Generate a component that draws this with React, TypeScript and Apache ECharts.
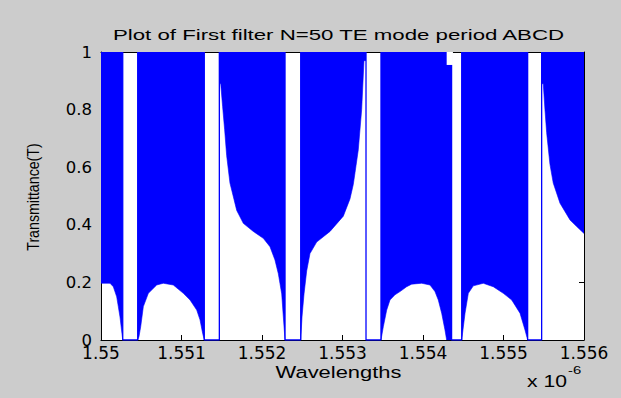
import React, { useEffect, useRef } from "react";
import * as echarts from "echarts";

// Wavelength axis (units of 1e-6 m)
const xMin = 1.55;
const xMax = 1.556;
const xStep = 0.001;
const yTicks = [0, 0.2, 0.4, 0.6, 0.8, 1];

// Stop bands (transmittance ~ 0): start / end wavelengths
const gapStarts = [1.55027, 1.551283, 1.552286, 1.553292, 1.554355, 1.5553];
const gapEnds = [1.550456, 1.55147, 1.552481, 1.553478, 1.554481, 1.555474];

// Lower envelope of the oscillating transmittance (upper envelope = 1)
const region1X = [1.55, 1.550112, 1.550153, 1.550195, 1.550215, 1.550236, 1.550255, 1.55027];
const region1T = [0.197, 0.197, 0.185, 0.15, 0.116, 0.08, 0.035, 0];

const region2X = [1.550456, 1.550472, 1.550493, 1.550526, 1.550588, 1.550692, 1.550774, 1.550898, 1.551023, 1.551106, 1.551189, 1.55123, 1.551263, 1.551283];
const region2T = [0, 0.012, 0.046, 0.116, 0.162, 0.191, 0.197, 0.191, 0.162, 0.139, 0.104, 0.07, 0.023, 0];

const region3X = [1.55147, 1.551487, 1.551511, 1.551536, 1.551561, 1.551602, 1.551686, 1.551768, 1.551892, 1.552016, 1.552099, 1.552161, 1.552203, 1.552245, 1.552265, 1.552286];
const region3T = [0.89, 0.89, 0.81, 0.73, 0.64, 0.545, 0.45, 0.405, 0.377, 0.353, 0.324, 0.278, 0.23, 0.16, 0.08, 0];

const region4X = [1.552481, 1.552497, 1.552522, 1.552555, 1.552596, 1.552679, 1.552845, 1.55301, 1.553093, 1.553134, 1.553155, 1.553196, 1.553238, 1.553267, 1.553292];
const region4T = [0, 0.08, 0.16, 0.24, 0.3, 0.34, 0.377, 0.43, 0.49, 0.54, 0.58, 0.66, 0.8, 0.97, 0.97];

const region5X = [1.553478, 1.553507, 1.553549, 1.55359, 1.553652, 1.553714, 1.553797, 1.553859, 1.553984, 1.554087, 1.554149, 1.55419, 1.554232, 1.554273, 1.554294, 1.554355];
const region5T = [0, 0.046, 0.104, 0.139, 0.157, 0.168, 0.185, 0.194, 0.197, 0.191, 0.168, 0.139, 0.093, 0.035, 0, 0];

const region6X = [1.554481, 1.554522, 1.554563, 1.554625, 1.554749, 1.554873, 1.554998, 1.555102, 1.555205, 1.555267, 1.5553];
const region6T = [0, 0.093, 0.162, 0.188, 0.197, 0.185, 0.162, 0.139, 0.093, 0.035, 0];

const region7X = [1.555474, 1.555494, 1.555515, 1.555536, 1.555577, 1.555618, 1.555702, 1.555826, 1.555909, 1.556];
const region7T = [0.89, 0.89, 0.8, 0.72, 0.61, 0.545, 0.475, 0.417, 0.394, 0.37];

// Where the upper envelope dips below 1 (left edge of the 5th stop band)
const notchX = [1.554294, 1.554372];
const notchT = [0.955, 0.955];

const regionsX = [region1X, region2X, region3X, region4X, region5X, region6X, region7X];
const regionsT = [region1T, region2T, region3T, region4T, region5T, region6T, region7T];

const BLUE = "#0000ff";
const LABEL_FONT = "DejaVu Sans";
const TEXT_FONT = "Liberation Sans";

const fmt = (v: number) => String(parseFloat(v.toFixed(4)));

export default function App() {
  const ref = useRef<HTMLDivElement>(null);

  useEffect(() => {
    if (!ref.current) return;
    const chart = echarts.init(ref.current, undefined, { renderer: "svg" });

    const series: any[] = [];
    regionsX.forEach((xs, i) => {
      const ts = regionsT[i];
      // blue fill from the lower envelope up to T = 1
      series.push({
        type: "line",
        name: "band" + i,
        data: xs.map((x, j) => [x, ts[j]]),
        symbol: "none",
        showSymbol: false,
        lineStyle: { color: BLUE, width: 0.6 },
        areaStyle: { color: BLUE, opacity: 1, origin: "end" },
        silent: true,
        z: 2,
      });
    });
    gapStarts.forEach((gs, i) => {
      series.push({
        type: "line",
        name: "gap" + i,
        data: [
          [gs, 1],
          [gs, 0],
          [gapEnds[i], 0],
          [gapEnds[i], 1],
        ],
        symbol: "none",
        showSymbol: false,
        lineStyle: { color: BLUE, width: 1.3 },
        silent: true,
        z: 3,
      });
    });
    series.push({
      type: "line",
      name: "notch",
      data: notchX.map((x, j) => [x, notchT[j]]),
      symbol: "none",
      showSymbol: false,
      lineStyle: { width: 0, color: "#ffffff" },
      areaStyle: { color: "#ffffff", opacity: 1, origin: "end" },
      silent: true,
      z: 4,
    });

    const axisLine = { show: true, onZero: false, lineStyle: { color: "#000", width: 1 } };
    const axisTick = { show: true, inside: true, length: 5, lineStyle: { color: "#000" } };

    chart.setOption({
      animation: false,
      backgroundColor: "#cccccc",
      grid: {
        left: 101,
        top: 52,
        right: 37,
        bottom: 58,
        show: true,
        backgroundColor: "#ffffff",
        borderWidth: 0,
      },
      xAxis: [
        {
          type: "value",
          position: "bottom",
          min: xMin,
          max: xMax,
          interval: xStep,
          axisLine,
          axisTick,
          splitLine: { show: false },
          axisLabel: {
            color: "#000",
            fontFamily: LABEL_FONT,
            fontSize: 17,
            lineHeight: 12,
            margin: 7,
            showMinLabel: true,
            showMaxLabel: true,
            formatter: (v: number) => fmt(v),
          },
        },
        {
          type: "value",
          position: "top",
          min: xMin,
          max: xMax,
          interval: xStep,
          axisLine,
          axisTick,
          splitLine: { show: false },
          axisLabel: { show: false },
        },
      ],
      yAxis: [
        {
          type: "value",
          position: "left",
          min: yTicks[0],
          max: yTicks[yTicks.length - 1],
          interval: 0.2,
          axisLine,
          axisTick,
          splitLine: { show: false },
          axisLabel: {
            color: "#000",
            fontFamily: LABEL_FONT,
            fontSize: 16.5,
            lineHeight: 10,
            margin: 9,
            formatter: (v: number) => fmt(v),
          },
        },
        {
          type: "value",
          position: "right",
          min: yTicks[0],
          max: yTicks[yTicks.length - 1],
          interval: 0.2,
          axisLine,
          axisTick,
          splitLine: { show: false },
          axisLabel: { show: false },
        },
      ],
      graphic: [
        {
          type: "text",
          x: 338.5,
          y: 35,
          scaleX: 1.435,
          style: {
            text: "Plot of First filter N=50 TE mode period ABCD",
            fontFamily: TEXT_FONT,
            fontSize: 15.5,
            fill: "#000",
            textAlign: "center",
            align: "center",
            textVerticalAlign: "middle",
            verticalAlign: "middle",
          },
        },
        {
          type: "text",
          x: 338.5,
          y: 372.5,
          scaleX: 1.345,
          style: {
            text: "Wavelengths",
            fontFamily: TEXT_FONT,
            fontSize: 16.3,
            fill: "#000",
            textAlign: "center",
            align: "center",
            textVerticalAlign: "middle",
            verticalAlign: "middle",
          },
        },
        {
          type: "text",
          x: 33,
          y: 197,
          rotation: Math.PI / 2,
          scaleY: 1.2,
          style: {
            text: "Transmittance(T)",
            fontFamily: TEXT_FONT,
            fontSize: 14.2,
            fill: "#000",
            textAlign: "center",
            align: "center",
            textVerticalAlign: "middle",
            verticalAlign: "middle",
          },
        },
        {
          type: "text",
          x: 527,
          y: 381,
          scaleX: 1.32,
          style: {
            text: "x 10",
            fontFamily: TEXT_FONT,
            fontSize: 16,
            fill: "#000",
            textAlign: "left",
            align: "left",
            textVerticalAlign: "middle",
            verticalAlign: "middle",
          },
        },
        {
          type: "text",
          x: 568,
          y: 370.5,
          scaleX: 1.35,
          style: {
            text: "-6",
            fontFamily: TEXT_FONT,
            fontSize: 11,
            fill: "#000",
            textAlign: "left",
            align: "left",
            textVerticalAlign: "middle",
            verticalAlign: "middle",
          },
        },
      ],
      series,
    });

    return () => {
      chart.dispose();
    };
  }, []);

  return (
    <div
      ref={ref}
      style={{ position: "absolute", left: 0, top: 0, width: 621, height: 398 }}
    />
  );
}
